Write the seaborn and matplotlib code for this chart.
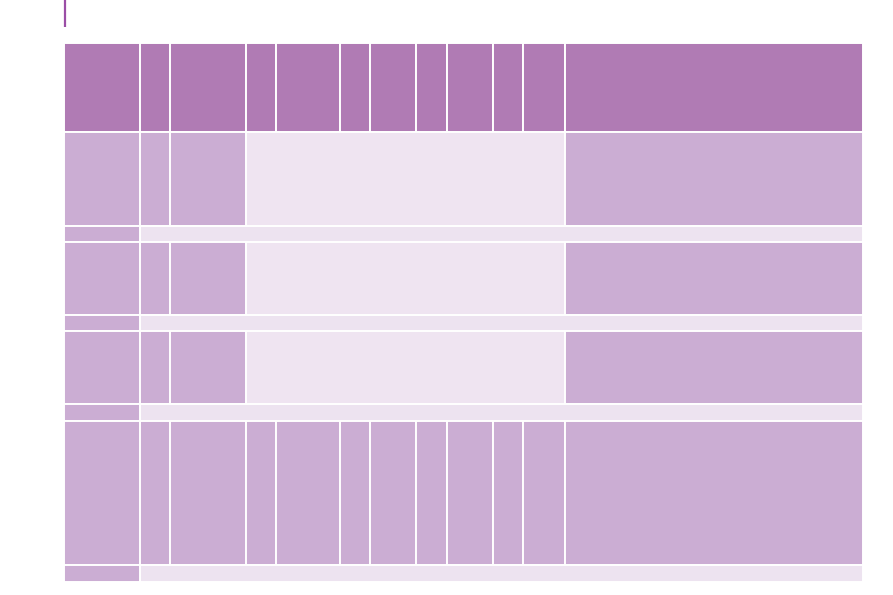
import numpy as np
import seaborn as sns
import matplotlib
matplotlib.use("Agg")
import matplotlib.pyplot as plt

sns.set_theme(style="white")

# column widths and row heights of the table grid (pixel units)
col_widths = [76.5, 29.8, 76.5, 30, 63.7, 30, 46, 30.7, 46.3, 30, 42, 298]
row_heights = [89, 94, 16, 73, 16.5, 72.5, 17, 144.5, 16.7]

# each row: list of (first column, number of columns spanned, cell kind)
full_row = [(i, 1, "dark") for i in range(12)]
merged_row = [(0, 1, "dark"), (1, 1, "dark"), (2, 1, "dark"),
              (3, 8, "light"), (11, 1, "dark")]
band_row = [(0, 1, "dark"), (1, 11, "band")]
header_row = [(i, 1, "head") for i in range(12)]

rows = [header_row, merged_row, band_row, merged_row, band_row,
        merged_row, band_row, full_row, band_row]

palette = {"head": "#b07bb4", "dark": "#cbadd3",
           "light": "#efe4f1", "band": "#ede3f0"}

fig = plt.figure(figsize=(8.93, 5.95), dpi=100)
ax = fig.add_axes([0, 0, 1, 1])
ax.set_xlim(0, 893)
ax.set_ylim(595, 0)
ax.axis("off")

x0, y0 = 63.5, 42.5
col_edges = x0 + np.concatenate([[0], np.cumsum(col_widths)])
row_edges = y0 + np.concatenate([[0], np.cumsum(row_heights)])

for r, cells in enumerate(rows):
    for start, span, kind in cells:
        left = col_edges[start]
        width = col_edges[start + span] - left
        ax.barh(row_edges[r], width, height=row_heights[r], left=left,
                align="edge", color=palette[kind], edgecolor="white",
                linewidth=1.4)

# accent bar at top left
ax.plot([64.5, 64.5], [0, 27], color="#9b4ea6", linewidth=1.6,
        solid_capstyle="butt")

fig.savefig("out.png", dpi=100)
